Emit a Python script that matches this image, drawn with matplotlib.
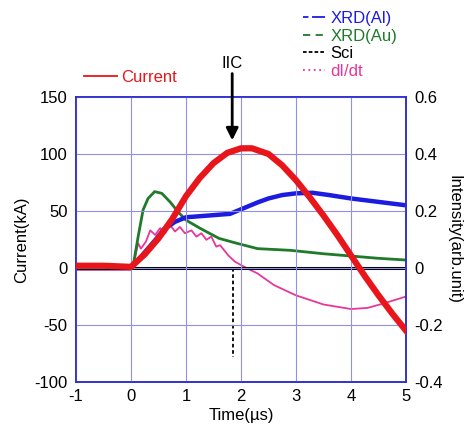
import matplotlib.pyplot as plt
from matplotlib.lines import Line2D

plt.rcParams['font.family'] = ['Liberation Sans', 'DejaVu Sans']
plt.rcParams['axes.unicode_minus'] = False

# Current (kA), left axis
cur_t = [-1, -0.5, 0, 0.25, 0.5, 0.75, 1.0, 1.25, 1.5, 1.75, 2.0, 2.2, 2.5, 2.75,
         3.0, 3.25, 3.5, 3.75, 4.0, 4.25, 4.5, 4.75, 5.0]
cur_v = [2, 2, 1, 12, 26, 43, 63, 79, 92, 101, 105, 105, 100, 90,
         77, 62, 46, 29, 11, -7, -24, -40, -55]

# intensities (arb. unit), right axis
al_t = [-1, 0, 0.2, 0.45, 0.6, 0.8, 1.0, 1.4, 1.8, 2.0, 2.3, 2.5, 2.75, 3.0, 3.3,
        3.6, 4.0, 4.5, 5.0]
al_v = [0, 0, 0.044, 0.1, 0.136, 0.162, 0.178, 0.184, 0.19, 0.206, 0.23, 0.244,
        0.256, 0.262, 0.264, 0.256, 0.244, 0.232, 0.22]

au_t = [-1, 0, 0.05, 0.13, 0.22, 0.31, 0.43, 0.56, 0.71, 0.86, 1.0, 1.25, 1.6,
        1.9, 2.3, 2.9, 3.5, 4.0, 4.5, 5.0]
au_v = [0, 0, 0.02, 0.11, 0.204, 0.244, 0.268, 0.262, 0.232, 0.196, 0.168,
        0.14, 0.104, 0.088, 0.068, 0.062, 0.05, 0.042, 0.034, 0.028]

sci_t = [-1, 0, 1.84, 1.88, 5.0]
sci_v = [0, 0, 0, 0, 0]
spike_t = [1.86, 1.86]
spike_v = [0, -0.312]

didt_t = [-1, 0, 0.07, 0.13, 0.18, 0.27, 0.35, 0.44, 0.53, 0.62, 0.71, 0.8, 0.89,
          0.98, 1.1, 1.19, 1.28, 1.37, 1.46, 1.55, 1.62, 1.77, 1.89, 2.1, 2.3,
          2.6, 3.0, 3.5, 4.0, 4.3, 4.6, 5.0]
didt_v = [-0.006, -0.006, 0.034, 0.087, 0.068, 0.092, 0.132, 0.116, 0.14, 0.122,
          0.151, 0.128, 0.144, 0.122, 0.132, 0.11, 0.122, 0.099, 0.11, 0.075,
          0.08, 0.044, 0.022, 0.0, -0.019, -0.06, -0.096, -0.128, -0.144,
          -0.14, -0.124, -0.1]

red = '#e8161b'
blue = '#1c1ce0'
green = '#1f7a2a'
pink = '#e8369a'
frame = '#3030d0'
fs = 12

fig = plt.figure(figsize=(4.77, 4.30), dpi=100)
ax = fig.add_axes([0.1593, 0.1116, 0.6919, 0.6628])
ax2 = ax.twinx()

ax2.plot(didt_t, didt_v, color=pink, lw=1.3)
ax2.plot(au_t, au_v, color=green, lw=2.0)
ax2.plot(al_t, al_v, color=blue, lw=3.2)
ax2.plot(sci_t, sci_v, color='black', lw=2.2)
ax2.plot(spike_t, spike_v, color='black', lw=1.3, ls=(0, (2, 1.5)))
ax.plot(cur_t, cur_v, color=red, lw=4.5, zorder=5)
ax.set_zorder(ax2.get_zorder() + 1)
ax.patch.set_visible(False)

ax.set_xlim(-1, 5)
ax.set_ylim(-100, 150)
ax2.set_ylim(-0.4, 0.6)
ax.set_xticks(range(-1, 6))
ax.set_yticks(range(-100, 151, 50))
ax2.set_yticks([-0.4, -0.2, 0, 0.2, 0.4, 0.6])
ax2.set_yticklabels(['-0.4', '-0.2', '0', '0.2', '0.4', '0.6'])
ax.grid(True, color='#9090e8', lw=0.8)
for a in (ax, ax2):
    a.tick_params(length=0, labelsize=fs, pad=6)
    for s in a.spines.values():
        s.set_color(frame)
        s.set_linewidth(1.2)
ax.tick_params(axis='x', pad=5)

ax.set_xlabel('Time(\u00b5s)', fontsize=fs, labelpad=3)
ax.set_ylabel('Current(kA)', fontsize=fs, labelpad=4)
ax2.set_ylabel('Intensity(arb.unit)', fontsize=fs, rotation=270, labelpad=13)

ax.annotate('IIC', xy=(1.84, 112), xytext=(1.84, 173), ha='center', va='bottom',
            fontsize=fs, annotation_clip=False,
            arrowprops=dict(arrowstyle='-|>', color='black', lw=2,
                            mutation_scale=18, shrinkA=0, shrinkB=0))

h_cur = [Line2D([], [], color=red, lw=1.3)]
leg1 = fig.legend(h_cur, ['Current'], loc='center left',
                  bbox_to_anchor=(84 / 477, 1 - 77 / 430), frameon=False,
                  fontsize=fs, handlelength=2.0, handletextpad=0.25,
                  borderpad=0, borderaxespad=0)
for t in leg1.get_texts():
    t.set_color(red)

h_int = [Line2D([], [], color=blue, lw=1.3, ls=(0, (3, 2, 8, 2))),
         Line2D([], [], color=green, lw=1.3, ls=(0, (4, 3))),
         Line2D([], [], color='black', lw=1.3, ls=(0, (2, 1.2))),
         Line2D([], [], color=pink, lw=1.3, ls=(0, (1, 2)))]
leg2 = fig.legend(h_int, ['XRD(Al)', 'XRD(Au)', 'Sci', 'dI/dt'], loc='upper left',
                  bbox_to_anchor=(303 / 477, 1 - 11 / 430), frameon=False,
                  fontsize=fs, handlelength=1.35, handletextpad=0.3,
                  labelspacing=0.16, borderpad=0, borderaxespad=0)
for t, c in zip(leg2.get_texts(), [blue, green, 'black', pink]):
    t.set_color(c)

fig.savefig('out.png', dpi=100)
